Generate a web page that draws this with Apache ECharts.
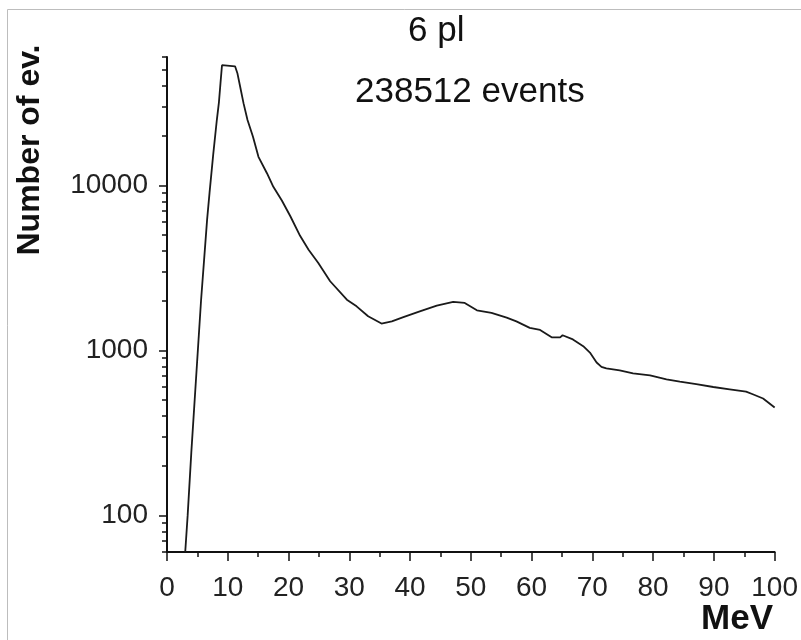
<!DOCTYPE html>
<html>
<head>
<meta charset="utf-8">
<script src="https://cdn.jsdelivr.net/npm/echarts@6/dist/echarts.min.js"></script>
<style>
html,body{margin:0;padding:0;background:#fff;}
#chart{width:801px;height:640px;}
</style>
</head>
<body>
<div id="chart"></div>
<script>
// Energy (MeV) values of the curve points
const energyMeV = [3.0, 3.4, 4.0, 5.6, 6.6, 7.0, 7.6, 8.2, 8.55, 8.8, 9.05, 11.2, 11.6, 12.05, 12.6, 13.25, 14.15, 15.05, 16.45, 17.5, 18.9, 20.3, 21.9, 23.3, 24.9, 26.85, 29.6, 31.2, 33.1, 35.3, 37.0, 38.9, 41.6, 44.4, 47.1, 49.0, 51.0, 53.4, 55.9, 57.5, 59.7, 61.4, 63.3, 64.7, 65.1, 66.8, 68.5, 69.6, 70.7, 71.5, 72.3, 74.5, 76.7, 79.5, 82.2, 84.4, 87.1, 89.9, 92.6, 95.3, 96.4, 98.1, 100];
// Number of events at each energy
const numberOfEvents = [60, 100, 240, 2000, 6200, 9000, 15300, 24900, 32000, 41500, 53500, 52700, 47600, 39500, 31400, 24900, 19700, 14900, 11850, 9800, 8100, 6500, 4950, 4075, 3390, 2625, 2030, 1850, 1610, 1455, 1500, 1590, 1725, 1870, 1970, 1940, 1750, 1690, 1580, 1500, 1370, 1330, 1200, 1200, 1235, 1165, 1060, 970, 845, 795, 778, 757, 726, 706, 668, 647, 624, 600, 581, 562, 542, 511, 451];
// Axis ticks
const xTickLabels = [0, 10, 20, 30, 40, 50, 60, 70, 80, 90, 100];
const yMajorTicks = [100, 1000, 10000];
const yMinorTicks = [60, 70, 80, 90, 200, 300, 400, 500, 600, 700, 800, 900, 2000, 3000, 4000, 5000, 6000, 7000, 8000, 9000, 20000, 30000, 40000, 50000, 60000];
const titleLine1 = '6 pl';
const titleLine2 = '238512 events';
const yAxisTitle = 'Number of ev.';
const xAxisTitle = 'MeV';

const FONT = '"Liberation Sans", Arial, Helvetica, sans-serif';
const chart = echarts.init(document.getElementById('chart'), null, {renderer: 'canvas'});
const seriesData = energyMeV.map((e, i) => [e, numberOfEvents[i]]);

const option = {
  backgroundColor: '#ffffff',
  animation: false,
  title: [
    {text: titleLine1, left: 408, top: 14, padding: 0,
     textStyle: {fontFamily: FONT, fontSize: 35, fontWeight: 'normal', color: '#111'}},
    {text: titleLine2, left: 355, top: 75, padding: 0,
     textStyle: {fontFamily: FONT, fontSize: 35, fontWeight: 'normal', color: '#111'}}
  ],
  grid: {left: 167, top: 57, right: 26, bottom: 88, containLabel: false},
  xAxis: {
    type: 'value', min: 0, max: 100, interval: 10,
    axisLine: {show: true, onZero: false, lineStyle: {color: '#111', width: 2}},
    axisTick: {show: true, inside: false, length: 9, lineStyle: {color: '#111', width: 1.5}},
    minorTick: {show: true, splitNumber: 2, length: 5, lineStyle: {color: '#111', width: 1.5}},
    splitLine: {show: false},
    axisLabel: {show: true, margin: 22, fontFamily: FONT, fontSize: 28, color: '#222',
      customValues: xTickLabels}
  },
  yAxis: [
    {
      type: 'log', logBase: 10, min: 60, max: 60000, position: 'left',
      axisLine: {show: true, lineStyle: {color: '#111', width: 2}},
      axisTick: {show: true, length: 8, customValues: yMajorTicks, lineStyle: {color: '#111', width: 1.5}},
      splitLine: {show: false},
      axisLabel: {show: true, margin: 19, fontFamily: FONT, fontSize: 28, color: '#222',
        customValues: yMajorTicks, formatter: v => String(Math.round(v))}
    },
    {
      type: 'log', logBase: 10, min: 60, max: 60000, position: 'left', offset: 0,
      axisLine: {show: false},
      axisTick: {show: true, length: 5, customValues: yMinorTicks, lineStyle: {color: '#111', width: 1.5}},
      splitLine: {show: false},
      axisLabel: {show: false}
    }
  ],
  series: [{
    type: 'line',
    data: seriesData,
    yAxisIndex: 0,
    showSymbol: false,
    clip: true,
    lineStyle: {color: '#1a1a1a', width: 1.8},
    silent: true
  }],
  graphic: [
    {type: 'rect', shape: {x: 7.5, y: 9.5, width: 820, height: 660}, style: {fill: 'none', stroke: '#bdbdbd', lineWidth: 1}, silent: true},
    {type: 'text', x: 30, y: 150, rotation: Math.PI / 2,
     style: {text: yAxisTitle, fontFamily: FONT, fontSize: 32, fontWeight: 'bold', fill: '#111', align: 'center', verticalAlign: 'middle'}},
    {type: 'text', x: 737, y: 619,
     style: {text: xAxisTitle, fontFamily: FONT, fontSize: 35, fontWeight: 'bold', fill: '#111', align: 'center', verticalAlign: 'middle'}}
  ]
};
chart.setOption(option);
</script>
</body>
</html>
